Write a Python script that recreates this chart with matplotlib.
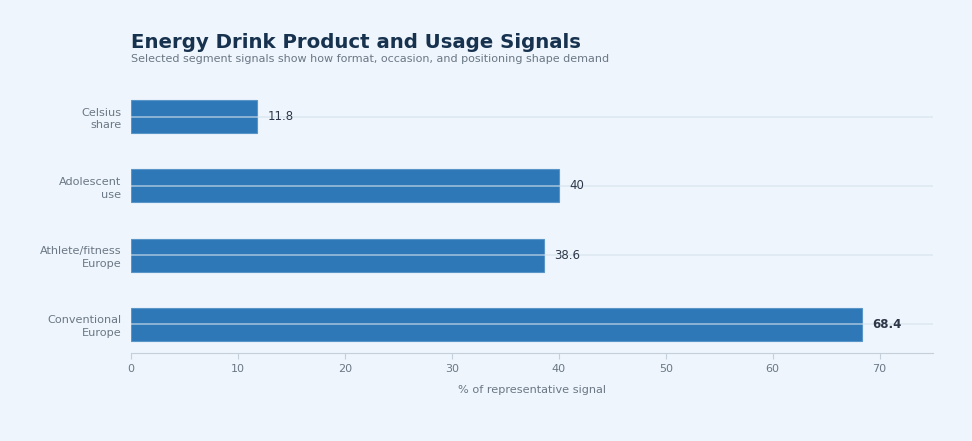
import matplotlib
matplotlib.use("Agg")
import matplotlib.pyplot as plt

categories = ["Celsius\nshare", "Adolescent\nuse", "Athlete/fitness\nEurope", "Conventional\nEurope"]
values = [11.8, 40, 38.6, 68.4]
xticks = [0, 10, 20, 30, 40, 50, 60, 70]

bg = "#EEF5FC"
bar_color = "#2E78B8"
grid_color = "#D6E1EC"
tick_color = "#6B7785"

fig = plt.figure(figsize=(9.72, 4.41), dpi=100, facecolor=bg)
ax = fig.add_axes([0.1348, 0.1995, 0.8251, 0.6010], facecolor=bg)

ypos = list(range(len(categories)))
ax.barh(ypos, values, height=0.48, color=bar_color, edgecolor="#5A95C8", linewidth=0.8, zorder=2)
ax.set_axisbelow(False)
ax.grid(axis="y", color=grid_color, linewidth=1.2, alpha=0.65, zorder=3)
ax.grid(axis="x", visible=False)
ax.invert_yaxis()
ax.set_yticks(ypos)
ax.set_yticklabels(categories, fontsize=8.1, color=tick_color, linespacing=1.35)
ax.set_xticks(xticks)
ax.set_xticklabels([str(t) for t in xticks], fontsize=8, color=tick_color)
ax.set_xlim(0, 75)
ax.tick_params(axis="y", length=0, pad=7)
ax.tick_params(axis="x", length=4, color="#C5CFD9", pad=4)
for s in ["top", "right", "left"]:
    ax.spines[s].set_visible(False)
ax.spines["bottom"].set_color("#C5CFD9")
ax.set_xlabel("% of representative signal", fontsize=8.1, color=tick_color, labelpad=8)

vmax = max(values)
for y, v in zip(ypos, values):
    lab = f"{v:g}"
    ax.text(v + 0.95, y, lab, va="center", ha="left", fontsize=8.5,
            color="#2D3748", fontweight="bold" if v == vmax else "normal", zorder=4)

fig.text(0.1348, 0.903, "Energy Drink Product and Usage Signals", fontsize=14.2,
         fontweight="bold", color="#17324F", ha="left", va="center")
fig.text(0.1348, 0.866, "Selected segment signals show how format, occasion, and positioning shape demand",
         fontsize=8.05, color="#6B7785", ha="left", va="center")

fig.savefig("out.png", dpi=100, facecolor=bg)
